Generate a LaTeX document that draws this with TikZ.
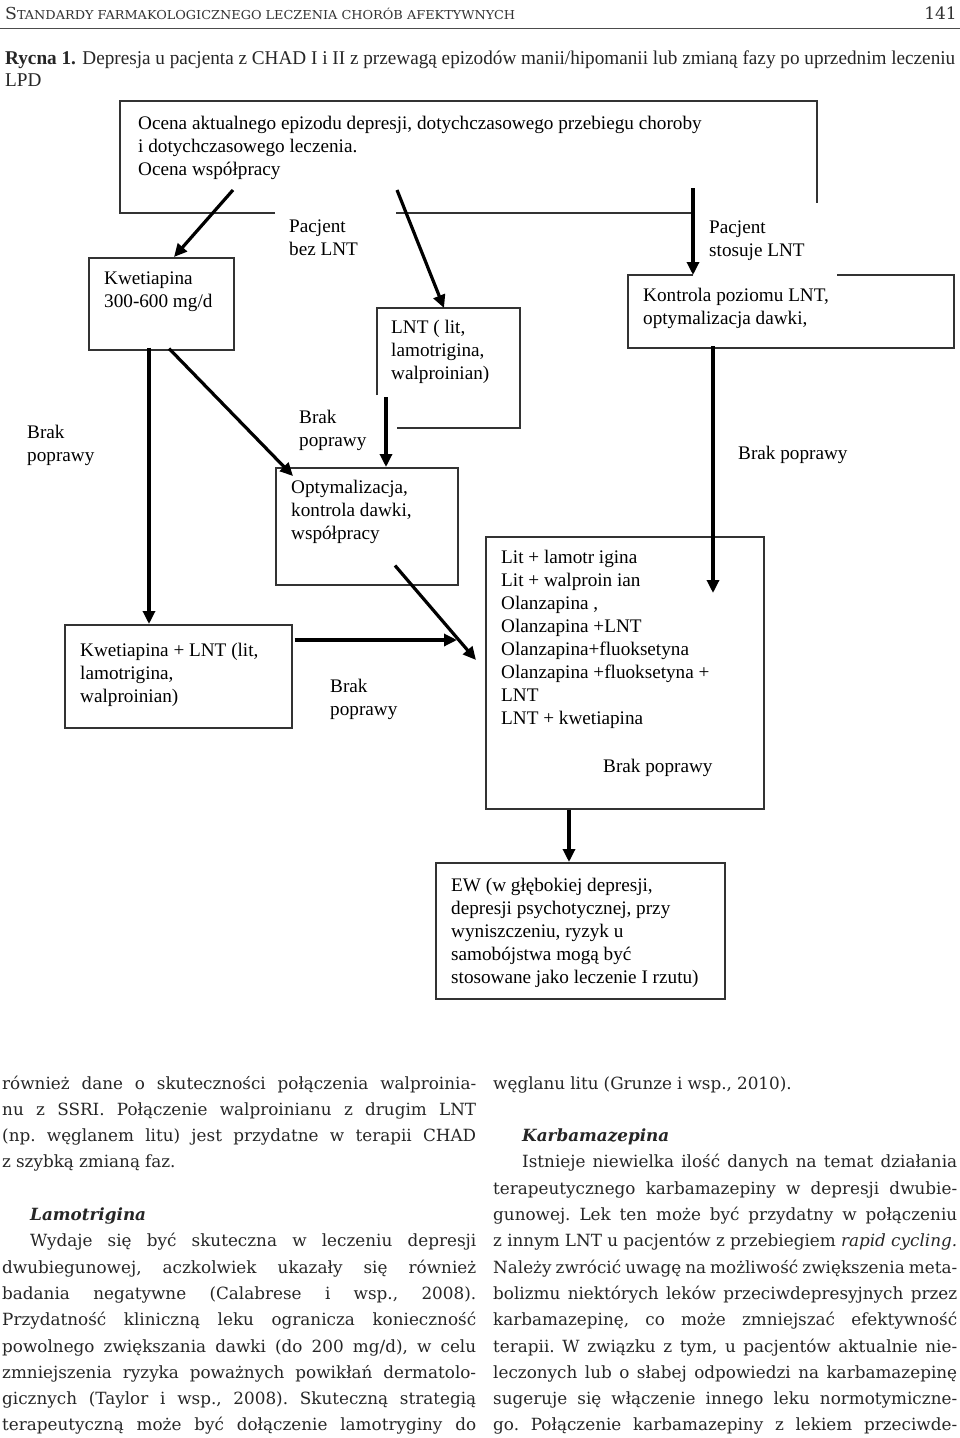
\documentclass[tikz,border=0pt]{standalone}
\usepackage{fontspec}
\usepackage{graphicx}
\setmainfont{Liberation Serif}
\newfontfamily\bodyfont{DejaVu Serif}
\usetikzlibrary{arrows.meta,calc}
\newcommand{\bodysetup}{\bodyfont\fontsize{16.8}{26.3}\selectfont
  \frenchspacing\parindent=0pt\hyphenpenalty=10000\tolerance=10000
  \spaceskip=0.3em plus 0.5em minus 0.14em\relax}
\begin{document}
\begin{tikzpicture}[x=1pt,y=-1pt,
  box/.style={draw=black!80, line width=1.5pt, rectangle, inner sep=0pt, anchor=north west},
  area/.style={rectangle, inner sep=0pt, anchor=north west},
  frame/.style={draw=black!80, line width=1.5pt},
  arr/.style={draw=black, line width=3.2pt, -{Triangle[length=13pt,width=12pt]}},
  lbl/.style={anchor=base west, inner sep=0pt, align=left, font=\fontsize{19.2}{23}\selectfont},
  body/.style={anchor=base west, inner sep=0pt}
  ]
\useasboundingbox (0,0) rectangle (960,1438);
\fill[white] (0,0) rectangle (960,1438);

% header
\node[anchor=base west, inner sep=0pt, text=black!80] (hdr) at (5,19)
  {\resizebox{510pt}{\height}{\bodyfont{\fontsize{16.5}{16}\selectfont S}{\fontsize{12.3}{12}\selectfont TANDARDY FARMAKOLOGICZNEGO LECZENIA CHORÓB AFEKTYWNYCH}}};
\node[anchor=base east, inner sep=0pt, text=black!80] (pg) at (957,19) {\bodyfont\fontsize{17}{17}\selectfont 141};
\draw[line width=1pt, black!70] (0,28) -- (960,28);

% caption
\node[anchor=base west, inner sep=0pt, text=black!85] (cap) at (5,64)
  {\resizebox{950pt}{\height}{\fontsize{19.5}{22}\selectfont\begin{tabular}[t]{@{}l@{}}\textbf{Rycna 1.} Depresja u pacjenta z CHAD I i II z przewagą epizodów manii/hipomanii lub zmianą fazy po uprzednim leczeniu\\LPD\end{tabular}}};

% top box (partial frame)
\node[area, minimum width=697, minimum height=112] (top) at (120,101) {};
\draw[frame] (275,213) -- (120,213) -- (120,101) -- (817,101) -- (817,203);
\draw[frame] (396,213) -- (693,213);
\node[lbl] (toptxt) at (138,175) {Ocena aktualnego epizodu depresji, dotychczasowego przebiegu choroby\\i dotychczasowego leczenia.\\Ocena współpracy};

% labels
\node[lbl] (pbez) at (289,255) {Pacjent\\bez LNT};
\node[lbl] (pstos) at (709,256) {Pacjent\\stosuje LNT};

% Kwetiapina box
\node[box, minimum width=145, minimum height=92] (kw) at (88,257) {};
\node[lbl] (kwtxt) at (104,307) {Kwetiapina\\300-600 mg/d};

% LNT box (partial frame)
\node[area, minimum width=143, minimum height=120] (lnt) at (377,308) {};
\draw[frame] (377,395) -- (377,308) -- (520,308) -- (520,428) -- (397,428);
\node[lbl] (lnttxt) at (391,379) {LNT ( lit,\\lamotrigina,\\walproinian)};

% Kontrola box (partial frame)
\node[area, minimum width=326, minimum height=73] (kon) at (628,275) {};
\draw[frame] (693,275) -- (628,275) -- (628,348) -- (954,348) -- (954,275) -- (837,275);
\node[lbl] (kontxt) at (643,324) {Kontrola poziomu LNT,\\optymalizacja dawki,};

% Brak poprawy labels
\node[lbl] (bp1) at (27,461) {Brak\\poprawy};
\node[lbl] (bp2) at (299,446) {Brak\\poprawy};
\node[lbl] (bp3) at (738,459) {Brak poprawy};
\node[lbl] (bp4) at (330,715) {Brak\\poprawy};

% Optymalizacja box
\node[box, minimum width=182, minimum height=117] (opt) at (275,467) {};
\node[lbl] (opttxt) at (291,539) {Optymalizacja,\\kontrola dawki,\\współpracy};

% Kwetiapina + LNT box
\node[box, minimum width=227, minimum height=103] (kl) at (64,624) {};
\node[lbl] (kltxt) at (80,702) {Kwetiapina + LNT (lit,\\lamotrigina,\\walproinian)};

% Lit box
\node[box, minimum width=278, minimum height=272] (lit) at (485,536) {};
\node[lbl] (littxt) at (501,724) {Lit + lamotr igina\\Lit + walproin ian\\Olanzapina ,\\Olanzapina +LNT\\Olanzapina+fluoksetyna\\Olanzapina +fluoksetyna +\\LNT\\LNT + kwetiapina};
\node[lbl] (bp5) at (603,772) {Brak poprawy};

% EW box
\node[box, minimum width=289, minimum height=136] (ew) at (435,862) {};
\node[lbl] (ewtxt) at (451,983) {EW (w głębokiej depresji,\\depresji psychotycznej, przy\\wyniszczeniu, ryzyk u\\samobójstwa mogą być\\stosowane jako leczenie I rzutu)};

% arrow start points
\coordinate (s1) at (233,190);
\coordinate (s2) at (397,190);
\coordinate (s3) at (693,188);
\coordinate (s4) at ($(kon.south west)+(85,-2)$);
\coordinate (e4) at ($(lit.north west)+(228,57)$);
\coordinate (s5) at ($(kw.south west)+(61,-3)$);
\coordinate (s6) at ($(kw.south west)+(81,-2)$);
\coordinate (s7) at ($(lnt.south west)+(9,-31)$);
\coordinate (s8) at ($(opt.south west)+(120,-20)$);
\coordinate (e8) at ($(lit.north west)+(-9,124)$);
\coordinate (s9) at ($(kl.north east)+(2,16)$);
\coordinate (e9) at ($(lit.north west)+(-28,104)$);

% arrows
\draw[arr] (s1) -- ($(kw.north west)+(86,0)$);
\draw[arr] (s2) -- ($(lnt.north west)+(67,0)$);
\draw[arr] (s3) -- ($(kon.north west)+(65,0)$);
\draw[arr] (s4) -- (e4);
\draw[arr] (s5) -- ($(kl.north west)+(85,0)$);
\draw[arr] (s6) -- ($(opt.north west)+(18,9)$);
\draw[arr] (s7) -- ($(opt.north west)+(111,0)$);
\draw[arr] (s8) -- (e8);
\draw[arr] (s9) -- (e9);
\draw[arr] ($(lit.south west)+(84,0)$) -- ($(ew.north west)+(134,0)$);

% body text, left column
\node[body, text=black!85] (colL) at (2,1089) {\parbox[t]{474pt}{\bodysetup
również dane o skuteczności połączenia walproinia-\linebreak
nu z SSRI. Połączenie walproinianu z drugim LNT\linebreak
(np. węglanem litu) jest przydatne w terapii CHAD\linebreak
z szybką zmianą faz.\par
\vspace{26.3pt}
\hspace*{28pt}\textbf{\textit{Lamotrigina}}\par
\parindent=28pt\parfillskip=0pt
Wydaje się być skuteczna w leczeniu depresji\linebreak
dwubiegunowej, aczkolwiek ukazały się również\linebreak
badania negatywne (Calabrese i wsp., 2008).\linebreak
Przydatność kliniczną leku ogranicza konieczność\linebreak
powolnego zwiększania dawki (do 200 mg/d), w celu\linebreak
zmniejszenia ryzyka poważnych powikłań dermatolo-\linebreak
gicznych (Taylor i wsp., 2008). Skuteczną strategią\linebreak
terapeutyczną może być dołączenie lamotryginy do\par}};

% body text, right column
\node[body, text=black!85] (colR) at (493,1089) {\parbox[t]{464pt}{\bodysetup
węglanu litu (Grunze i wsp., 2010).\par
\vspace{26.3pt}
\hspace*{29pt}\textbf{\textit{Karbamazepina}}\par
\parindent=29pt\parfillskip=0pt
Istnieje niewielka ilość danych na temat działania\linebreak
terapeutycznego karbamazepiny w depresji dwubie-\linebreak
gunowej. Lek ten może być przydatny w połączeniu\linebreak
z~innym~LNT~u~pacjentów~z~przebiegiem~\textit{rapid~cycling.}\linebreak
Należy~zwrócić~uwagę~na~możliwość~zwiększenia~meta-\linebreak
bolizmu niektórych leków przeciwdepresyjnych przez\linebreak
karbamazepinę, co może zmniejszać efektywność\linebreak
terapii. W związku z tym, u pacjentów aktualnie nie-\linebreak
leczonych lub o słabej odpowiedzi na karbamazepinę\linebreak
sugeruje się włączenie innego leku normotymiczne-\linebreak
go. Połączenie karbamazepiny z lekiem przeciwde-\par}};
\end{tikzpicture}
\end{document}
